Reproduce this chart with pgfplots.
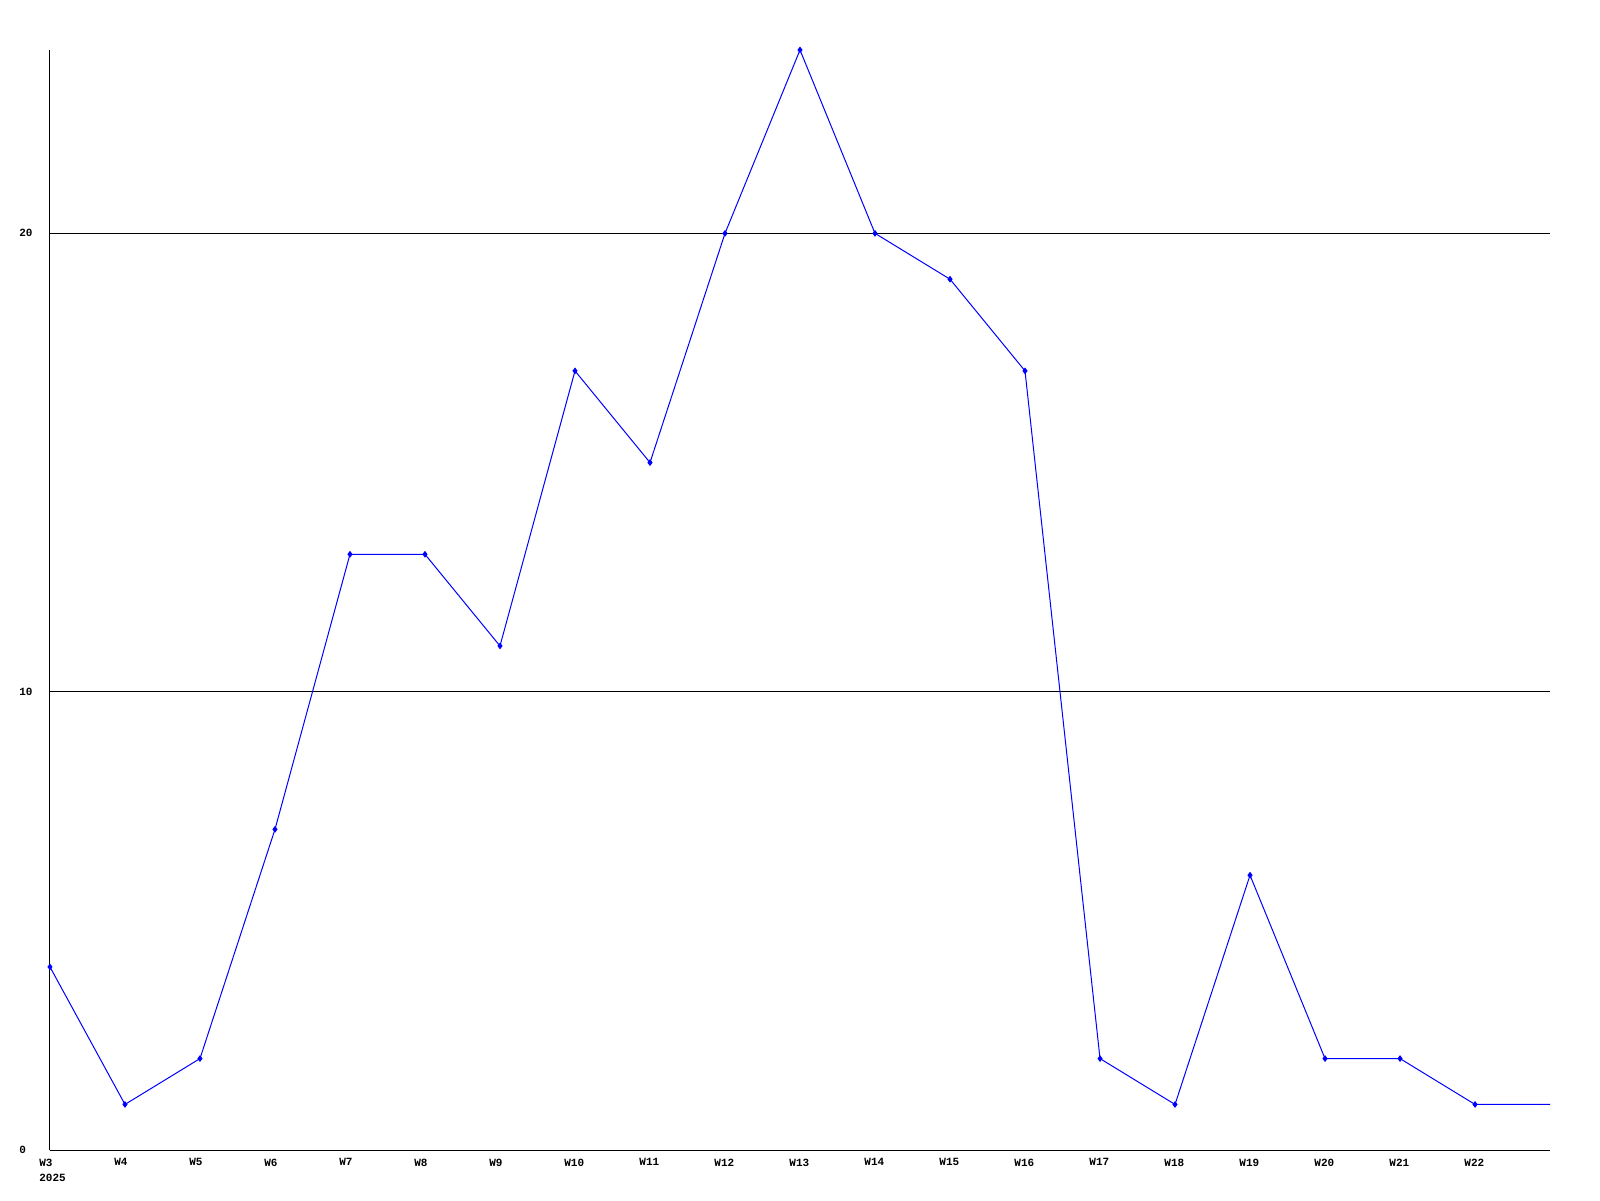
\documentclass[border=0pt]{standalone}
\usepackage{pgfplots}
\pgfplotsset{compat=1.18}
\usepackage{fontspec}
\setmainfont{Liberation Mono}
\begin{document}
\begin{tikzpicture}
\useasboundingbox (-25pt,-25pt) rectangle (775.5pt,575.5pt);
\begin{axis}[
  at={(0,0)}, anchor=south west,
  scale only axis, width=750.5pt, height=550.5pt,
  xmin=0, xmax=20, ymin=0, ymax=24,
  axis x line*=bottom, axis y line*=left,
  axis line style={black, line width=0.5pt, -},
  xtick={0,...,19},
  xticklabels={{W3\\2025},W4,W5,W6,W7,W8,W9,W10,W11,W12,W13,W14,W15,W16,W17,W18,W19,W20,W21,W22},
  ytick={0,10,20},
  major tick length=0pt,
  ymajorgrids, grid style={black, line width=0.5pt},
  tick label style={font=\fontsize{5.5}{7.6}\selectfont\bfseries},
  xticklabel style={anchor=north west, align=left, inner sep=0pt, xshift=-5.5pt, yshift=-4pt},
  yticklabel style={anchor=west, inner sep=0pt, xshift=-15.5pt},
  /pgf/number format/assume math mode=true,
  clip=false,
]
\addplot[color={rgb,255:red,0;green,0;blue,255}, line width=0.5pt, mark=diamond*, mark size=1.3pt, mark indices={1,...,20}] coordinates {
(0,4) (1,1) (2,2) (3,7) (4,13) (5,13) (6,11) (7,17) (8,15) (9,20)
(10,24) (11,20) (12,19) (13,17) (14,2) (15,1) (16,6) (17,2) (18,2) (19,1) (20,1)
};
\end{axis}
\end{tikzpicture}
\end{document}
